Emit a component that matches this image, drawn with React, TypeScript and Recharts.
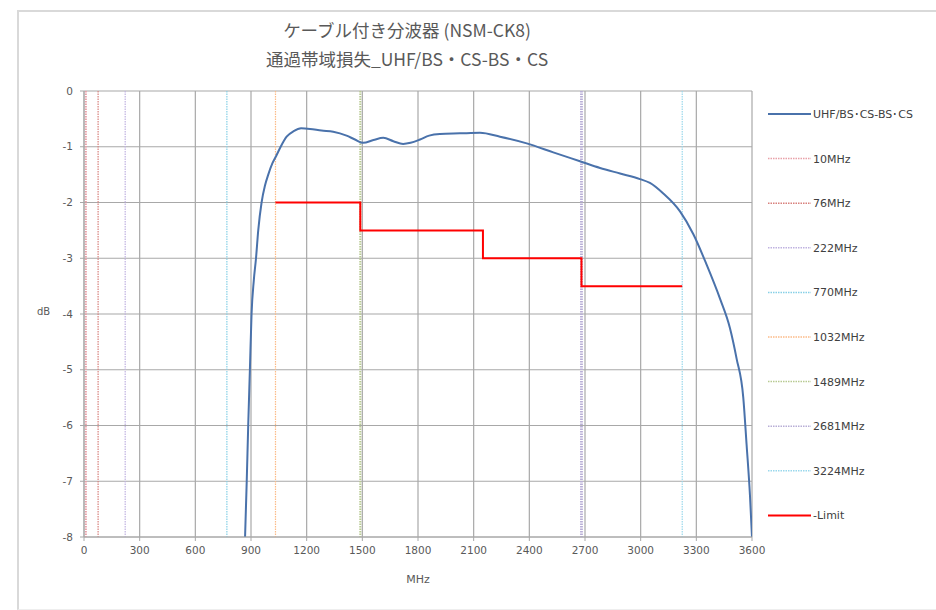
import { LineChart, Line, XAxis, YAxis, CartesianGrid } from 'recharts'

const titleLines = ['ケーブル付き分波器 (NSM-CK8)', '通過帯域損失_UHF/BS・CS-BS・CS']

const xTicks = [0, 300, 600, 900, 1200, 1500, 1800, 2100, 2400, 2700, 3000, 3300, 3600]
const yTicks = [0, -1, -2, -3, -4, -5, -6, -7, -8]

// measured loss curve (MHz, dB)
const curveMHz = [
  868, 877, 885, 894, 903, 915, 927, 939, 957, 975, 993, 1015, 1035, 1060, 1092, 1130, 1170, 1218,
  1280, 1343, 1415, 1460, 1505, 1560, 1613, 1667, 1720, 1760, 1811, 1860, 1918, 2026, 2134, 2242,
  2386, 2529, 2673, 2781, 2889, 2996, 3050, 3122, 3212, 3284, 3356, 3427, 3481, 3517, 3553, 3571,
  3589, 3600,
]
const curveDb = [
  -8, -7, -6, -5, -4, -3.4, -3, -2.5, -2, -1.7, -1.5, -1.3, -1.17, -1.0, -0.82, -0.72, -0.67, -0.68,
  -0.71, -0.73, -0.8, -0.87, -0.93, -0.88, -0.84, -0.9, -0.95, -0.93, -0.87, -0.8, -0.77, -0.76,
  -0.75, -0.82, -0.94, -1.1, -1.26, -1.38, -1.48, -1.58, -1.65, -1.84, -2.16, -2.57, -3.12, -3.72,
  -4.25, -4.8, -5.5, -6.35, -7.25, -8,
]

// limit steps
const limitMHz = [1032, 1489, 1489, 2150, 2150, 2681, 2681, 3224]
const limitDb = [-2, -2, -2.5, -2.5, -3, -3, -3.5, -3.5]

// vertical band markers
const markerMHz = [10, 76, 222, 770, 1032, 1489, 2681, 3224]
const markerNames = ['10MHz', '76MHz', '222MHz', '770MHz', '1032MHz', '1489MHz', '2681MHz', '3224MHz']
const markerColors = ['#e8a0a8', '#d8807c', '#bfb2e0', '#86d0e6', '#fbbb88', '#b8ca92', '#b8aed6', '#9ad8ec']
const markerWidths = [2, 1.2, 1.2, 1.2, 1.2, 2, 2.8, 1.2]

const curveData = curveMHz.map((mhz, i) => ({ mhz, db: curveDb[i] }))
const limitData = limitMHz.map((mhz, i) => ({ mhz, db: limitDb[i] }))
const markerData = markerMHz.map((mhz) => [
  { mhz, db: 0 },
  { mhz, db: -8 },
])

const CURVE_COLOR = '#4a72ab'
const LIMIT_COLOR = '#ff0000'
const TEXT = '#595959'
const FONT = '"DejaVu Sans", sans-serif'

const legendItems = [
  { name: 'UHF/BS･CS-BS･CS', color: CURVE_COLOR, dash: undefined as string | undefined, width: 2 },
  ...markerNames.map((name, i) => ({ name, color: markerColors[i], dash: '1.5 1', width: 1.5 })),
  { name: '-Limit', color: LIMIT_COLOR, dash: undefined, width: 2 },
]

export default function App() {
  return (
    <div style={{ position: 'absolute', left: 0, top: 0, width: 936, height: 610, background: '#fff', overflow: 'hidden' }}>
      <div
        style={{
          position: 'absolute',
          left: 17,
          top: 10,
          width: 940,
          height: 597,
          borderLeft: '2px solid #d9d9d9',
          borderTop: '2px solid #d9d9d9',
          borderBottom: '1px solid #eeeeee',
        }}
      />
      {titleLines.map((t, i) => (
        <div
          key={t}
          style={{
            position: 'absolute',
            left: 207,
            width: 400,
            top: 18 + i * 29,
            textAlign: 'center',
            fontFamily: '"Noto Sans CJK JP", "Noto Sans", sans-serif',
            fontSize: 17.5,
            color: TEXT,
            lineHeight: '24px',
          }}
        >
          {t}
        </div>
      ))}
      <div style={{ position: 'absolute', left: 37, top: 306, fontFamily: FONT, fontSize: 10, color: TEXT }}>
        dB
      </div>
      <div style={{ position: 'absolute', left: 388, width: 60, top: 573, textAlign: 'center', fontFamily: FONT, fontSize: 11, color: TEXT }}>
        MHz
      </div>

      <div style={{ position: 'absolute', left: 0, top: 0 }}>
        <LineChart width={936} height={610} margin={{ top: 91, right: 184, bottom: 43, left: 44 }}>
          <CartesianGrid stroke="#a8a8a8" strokeWidth={1.2} />
          <XAxis
            dataKey="mhz"
            type="number"
            domain={[0, 3600]}
            ticks={xTicks}
            allowDataOverflow
            stroke="#a8a8a8"
            tickSize={4}
            tickMargin={6}
            tick={{ fill: TEXT, fontSize: 10.5, fontFamily: FONT }}
            height={30}
          />
          <YAxis
            type="number"
            domain={[-8, 0]}
            ticks={yTicks}
            allowDataOverflow
            stroke="#a8a8a8"
            tickSize={4}
            tickMargin={7}
            width={40}
            tick={{ fill: TEXT, fontSize: 10.5, fontFamily: FONT }}
          />
          {markerData.map((d, i) => (
            <Line
              key={markerNames[i]}
              data={d}
              dataKey="db"
              name={markerNames[i]}
              stroke={markerColors[i]}
              strokeWidth={markerWidths[i]}
              strokeDasharray="1.5 1"
              dot={false}
              isAnimationActive={false}
            />
          ))}
          <Line
            data={curveData}
            dataKey="db"
            name="UHF/BS・CS-BS・CS"
            type="monotone"
            stroke={CURVE_COLOR}
            strokeWidth={2}
            dot={false}
            isAnimationActive={false}
          />
          <Line
            data={limitData}
            dataKey="db"
            name="-Limit"
            type="linear"
            stroke={LIMIT_COLOR}
            strokeWidth={2}
            dot={false}
            isAnimationActive={false}
          />
        </LineChart>
      </div>

      <svg style={{ position: 'absolute', left: 760, top: 100 }} width={176} height={430}>
        {legendItems.map((it, i) => {
          const y = 14 + i * 44.6
          return (
            <g key={it.name}>
              <line x1={8} x2={51} y1={y} y2={y} stroke={it.color} strokeWidth={it.width} strokeDasharray={it.dash} />
              <text x={53} y={y + 4} fontSize={11} fill="#404040" fontFamily={FONT}>
                {it.name}
              </text>
            </g>
          )
        })}
      </svg>
    </div>
  )
}
